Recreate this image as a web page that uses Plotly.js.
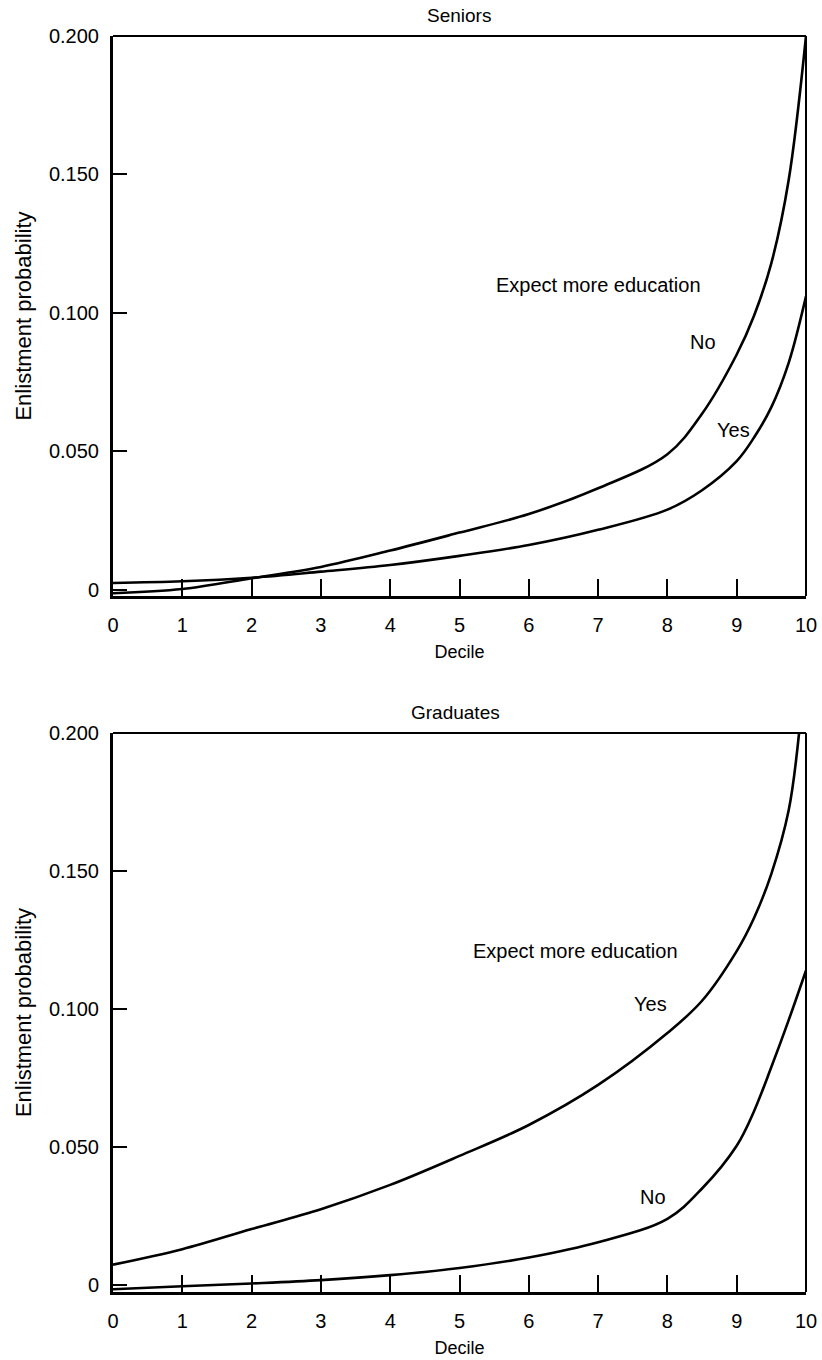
<!DOCTYPE html>
<html>
<head>
<meta charset="utf-8">
<script src="https://cdn.plot.ly/plotly-3.0.1.min.js"></script>
<style>html,body{margin:0;padding:0;background:#fff;}#chart{width:822px;height:1360px;}</style>
</head>
<body>
<div id="chart"></div>
<script>
// ---- Data ----
const decile = [0, 1, 2, 3, 4, 5, 6, 7, 8, 8.5, 9, 9.25, 9.5, 9.75, 10];
const seniorsNo  = [-0.0012, 0.0003, 0.0042, 0.0083, 0.0142, 0.0207, 0.0274, 0.0367, 0.049, 0.0636, 0.085, 0.099, 0.118, 0.148, 0.200];
const seniorsYes = [0.0025, 0.0031, 0.0044, 0.0066, 0.009, 0.0123, 0.0162, 0.0217, 0.029, 0.036, 0.0465, 0.055, 0.066, 0.082, 0.106];

const decileGradYes = [0, 1, 2, 3, 4, 5, 6, 7, 8, 8.5, 9, 9.25, 9.5, 9.75, 9.9];
const gradYes = [0.0074, 0.013, 0.0203, 0.0275, 0.0363, 0.0468, 0.058, 0.0725, 0.0913, 0.103, 0.121, 0.133, 0.149, 0.172, 0.200];
const gradNo  = [-0.0015, -0.0004, 0.0006, 0.0018, 0.0036, 0.0062, 0.0100, 0.0155, 0.024, 0.035, 0.0505, 0.063, 0.079, 0.096, 0.114];

const xTickVals = [0, 1, 2, 3, 4, 5, 6, 7, 8, 9, 10];
const xTickText = ["0", "1", "2", "3", "4", "5", "6", "7", "8", "9", "10"];
const yTickVals = [0, 0.05, 0.10, 0.15, 0.20];
const yTickText = ["0", "0.050", "0.100", "0.150", "0.200"];

const panelTitles = ["Seniors", "Graduates"];
const xTitle = "Decile";
const yTitle = "Enlistment probability";
const legendTitle = "Expect more education";

// ---- Styling ----
const FONT = "Liberation Sans, Arial, Helvetica, sans-serif";
const lineStyle = {color: "#000", width: 2.6, shape: "spline", smoothing: 1};

function mk(x, y, xa, ya, name) {
  return {x: x, y: y, xaxis: xa, yaxis: ya, mode: "lines", name: name,
          line: lineStyle, hoverinfo: "skip", cliponaxis: true};
}

const traces = [
  mk(decile, seniorsNo, "x", "y", "Seniors No"),
  mk(decile, seniorsYes, "x", "y", "Seniors Yes"),
  mk(decileGradYes, gradYes, "x2", "y2", "Graduates Yes"),
  mk(decile, gradNo, "x2", "y2", "Graduates No")
];

function xaxis(anchor, titleText) {
  return {
    domain: [113/822, 806/822], anchor: anchor, range: [0, 10],
    tickmode: "array", tickvals: xTickVals, ticktext: xTickText,
    ticks: "inside", ticklen: 17, tickwidth: 2, tickcolor: "#000",
    showline: true, linewidth: 3, linecolor: "#000", mirror: false,
    showgrid: false, zeroline: false, ticklabelstandoff: 9,
    tickfont: {family: FONT, size: 20, color: "#000"},
    title: {text: titleText, font: {family: FONT, size: 18, color: "#000"}, standoff: 11},
    automargin: false, fixedrange: true
  };
}
function yaxis(anchor, dom, rng) {
  return {
    domain: dom, anchor: anchor, range: rng,
    tickmode: "array", tickvals: yTickVals, ticktext: yTickText,
    ticks: "inside", ticklen: 14, tickwidth: 2, tickcolor: "#000",
    showline: true, linewidth: 3, linecolor: "#000", mirror: false,
    showgrid: false, zeroline: false, ticklabelstandoff: 7,
    tickfont: {family: FONT, size: 20, color: "#000"},
    title: {text: yTitle, font: {family: FONT, size: 22, color: "#000"}, standoff: 12},
    automargin: false, fixedrange: true
  };
}

const yDom1 = [1 - 596/1360, 1 - 36/1360];
const yDom2 = [1 - 1292/1360, 1 - 733/1360];

function frame(xr, yr) {
  return [
    {type: "line", xref: xr + " domain", yref: yr + " domain", x0: 0, x1: 1, y0: 1, y1: 1, line: {color: "#000", width: 2}},
    {type: "line", xref: xr + " domain", yref: yr + " domain", x0: 1, x1: 1, y0: 0, y1: 1, line: {color: "#000", width: 2}}
  ];
}

function ann(xr, yr, x, y, text, size) {
  return {xref: xr, yref: yr, x: x, y: y, text: text, showarrow: false,
          xanchor: "center", yanchor: "middle",
          font: {family: FONT, size: size, color: "#000"}};
}

const layout = {
  width: 822, height: 1360,
  margin: {l: 0, r: 0, t: 0, b: 0},
  paper_bgcolor: "#fff", plot_bgcolor: "#fff",
  showlegend: false,
  xaxis: xaxis("y", xTitle),
  yaxis: yaxis("x", yDom1, [-0.0022, 0.2]),
  xaxis2: xaxis("y2", xTitle),
  yaxis2: yaxis("x2", yDom2, [-0.0025, 0.2]),
  shapes: frame("x", "y").concat(frame("x2", "y2")),
  annotations: [
    ann("paper", "paper", 459/822, 1 - 16/1360, panelTitles[0], 19),
    ann("paper", "paper", 455/822, 1 - 712/1360, panelTitles[1], 19),
    ann("x", "y", 7.01, 0.110, legendTitle, 20),
    ann("x", "y", 8.51, 0.0895, "No", 20),
    ann("x", "y", 8.95, 0.0578, "Yes", 20),
    ann("x2", "y2", 6.67, 0.121, legendTitle, 20),
    ann("x2", "y2", 7.75, 0.1018, "Yes", 20),
    ann("x2", "y2", 7.79, 0.0319, "No", 20)
  ]
};

Plotly.newPlot("chart", traces, layout, {staticPlot: true, displayModeBar: false});
</script>
</body>
</html>
